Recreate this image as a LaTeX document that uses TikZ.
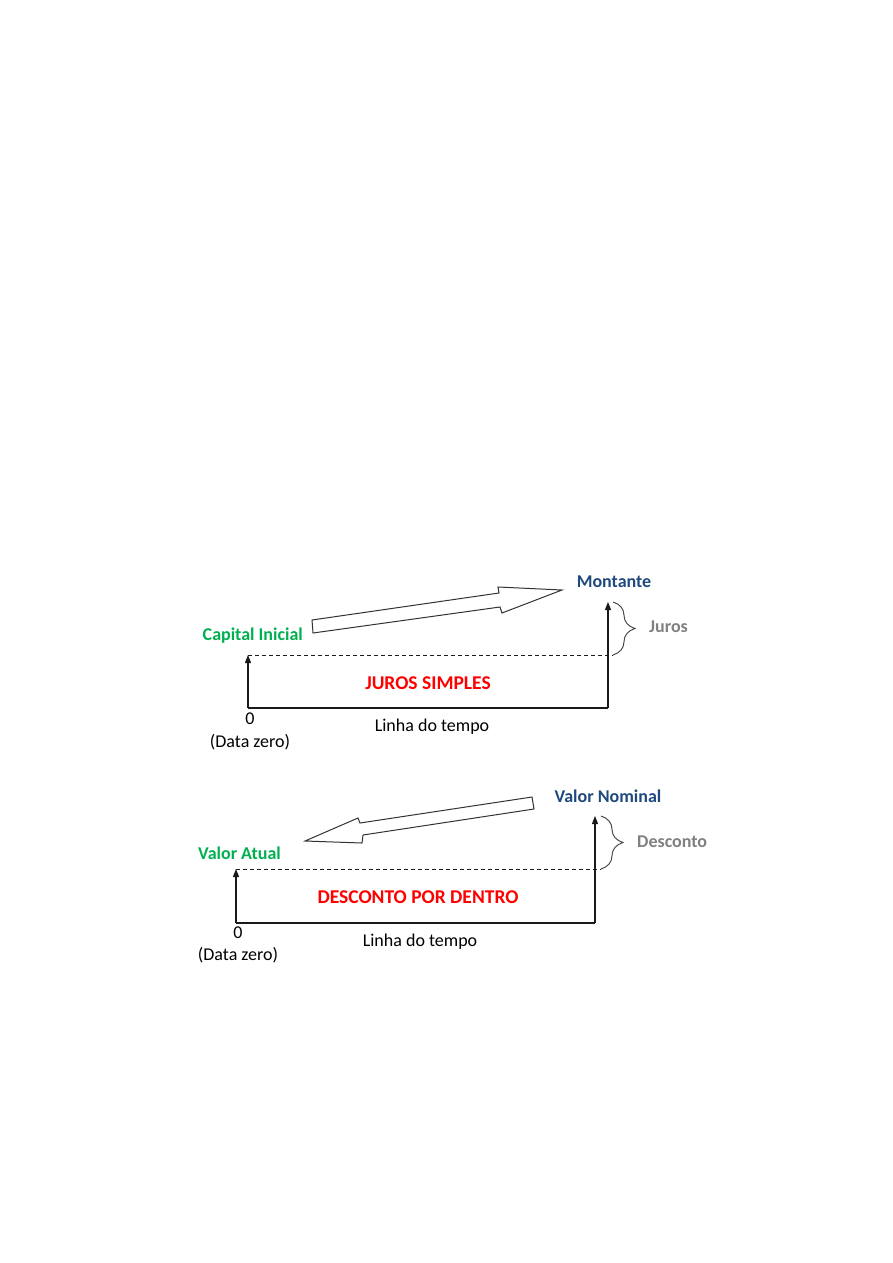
\documentclass[tikz,border=0pt]{standalone}
\usepackage{fontspec}
\setmainfont{Carlito}
\usepackage{xcolor}
\usetikzlibrary{arrows.meta,decorations.pathreplacing}
\definecolor{cGreen}{HTML}{00B050}
\definecolor{cBlue}{HTML}{1F497D}
\definecolor{cGray}{HTML}{808080}
\definecolor{cRed}{HTML}{FF0000}
\definecolor{cInk}{HTML}{1A1A1A}
\tikzset{
  >={Triangle[length=8pt,width=6pt]},
  axis/.style={line width=1.1pt,draw=cInk},
  ar/.style={axis,->},
  lvl/.style={line width=0.8pt,draw=cInk,dash pattern=on 4pt off 3pt},
  brc/.style={decorate,decoration={brace,amplitude=22pt},line width=1pt,draw=black!70},
  lbl/.style={font=\fontsize{18}{21}\selectfont\bfseries,inner sep=0pt},
  ttl/.style={font=\fontsize{19.5}{23}\selectfont\bfseries,text=cRed,inner sep=0pt},
  txt/.style={font=\fontsize{18}{21}\selectfont,inner sep=0pt},
  fat/.style={draw=black!80,line width=1pt,fill=white,line join=miter},
}

\begin{document}
\begin{tikzpicture}[x=1pt,y=-1pt]
\useasboundingbox (0,0) rectangle (893,1263);

% juros simples
\coordinate (o1) at (248,708);
\coordinate (c1) at (248,655);
\coordinate (t1) at (608,708);
\coordinate (m1) at (608,602);
\coordinate (b1) at (613,602);
\coordinate (d1) at (613,655);
\draw[axis] (o1) -- (t1);
\draw[ar] (o1) -- (c1);
\draw[ar] (t1) -- (m1);
\draw[lvl] (c1) -- (d1);
\draw[brc] (b1) -- (d1);
\draw[fat] (312,620) -- (499,593) -- (498,587) -- (562,590) -- (502,613)
   -- (500,607) -- (313,633) -- cycle;
\node[lbl,text=cBlue] (mont) at (614,582) {Montante};
\node[lbl,text=cGray,anchor=west] (juros) at (649,627) {Juros};
\node[lbl,text=cGreen,anchor=east] (cap) at (303,636) {Capital Inicial};
\node[ttl] (js) at (428,683) {JUROS SIMPLES};
\node[txt] (z1) at (250,719) {0};
\node[txt] (dz1) at (250,742) {(Data zero)};
\node[txt] (lt1) at (432,727) {Linha do tempo};

% desconto por dentro
\coordinate (o2) at (236,923);
\coordinate (c2) at (236,869);
\coordinate (t2) at (595,923);
\coordinate (n2) at (595,816);
\coordinate (b2) at (601,816);
\coordinate (d2) at (601,869);
\draw[axis] (o2) -- (t2);
\draw[ar] (o2) -- (c2);
\draw[ar] (t2) -- (n2);
\draw[lvl] (c2) -- (d2);
\draw[brc] (b2) -- (d2);
\draw[fat] (532,797) -- (534,809) -- (363,835) -- (362,843) -- (305,841)
   -- (358,818) -- (360,823) -- cycle;
\node[lbl,text=cBlue] (vn) at (608,796) {Valor Nominal};
\node[lbl,text=cGray,anchor=west] (desc) at (637,842) {Desconto};
\node[lbl,text=cGreen,anchor=east] (va) at (281,853) {Valor Atual};
\node[ttl] (dpd) at (418,897) {DESCONTO POR DENTRO};
\node[txt] (z2) at (238,933) {0};
\node[txt] (dz2) at (238,955) {(Data zero)};
\node[txt] (lt2) at (420,942) {Linha do tempo};
\end{tikzpicture}
\end{document}
